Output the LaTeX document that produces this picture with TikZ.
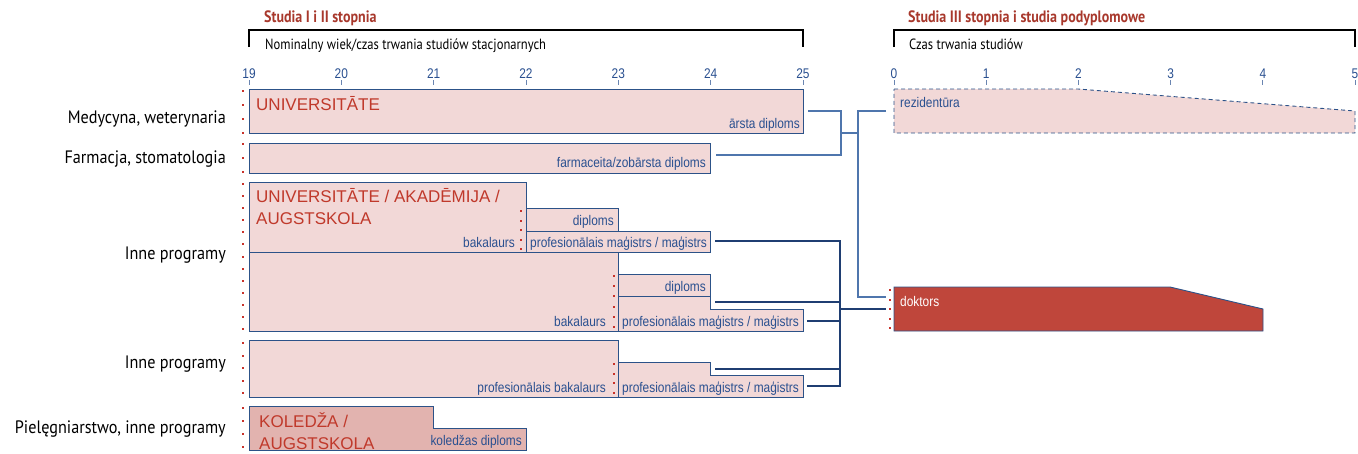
\documentclass[tikz,border=0pt]{standalone}
\usepackage{fontspec}
\newfontfamily\arialn[FakeStretch=0.85]{Liberation Sans}
\newfontfamily\arialr{Liberation Sans}
\newfontfamily\myr[FakeStretch=0.9]{PT Sans}
\newfontfamily\mys[FakeStretch=0.85]{PT Sans}
\definecolor{pinkfill}{HTML}{F2D8D7}
\definecolor{kolfill}{HTML}{E2B3AF}
\definecolor{boxborder}{HTML}{2C5288}
\definecolor{redtext}{HTML}{C0392B}
\definecolor{bluetext}{HTML}{2A5090}
\definecolor{titlecol}{HTML}{A8382C}
\definecolor{thincol}{HTML}{4F76AD}
\definecolor{thickcol}{HTML}{1F3E72}
\definecolor{dokfill}{HTML}{BF463B}
\definecolor{dotred}{HTML}{C8322A}
\newcommand\reddots[4]{\foreach \k in {0,...,#4}{\fill[dotred] ({#1-1},{#2+(#3-#2)*\k/#4-1}) rectangle ++(2,2);}}
\begin{document}
\begin{tikzpicture}[x=1pt,y=-1pt,
  box/.style={draw=boxborder, fill=pinkfill, line width=0.9pt},
  lbl/.style={font=\arialn\fontsize{14}{16}\selectfont, text=bluetext, inner sep=0pt, anchor=base east},
  big/.style={font=\arialr\fontsize{17}{21}\selectfont, text=redtext, inner sep=0pt, anchor=base west},
  rowlbl/.style={font=\myr\fontsize{18}{20}\selectfont, inner sep=0pt, anchor=base east},
  ttl/.style={font=\mys\bfseries\fontsize{16.5}{18}\selectfont, text=titlecol, inner sep=0pt, anchor=base west},
  sub/.style={font=\mys\fontsize{14.8}{17}\selectfont, inner sep=0pt, anchor=base west},
  num/.style={font=\arialn\fontsize{14}{16}\selectfont, text=bluetext, inner sep=0pt, anchor=base},
  thinc/.style={draw=thincol, line width=1.3pt},
  thickc/.style={draw=thickcol, line width=2.8pt},
  bracket/.style={draw=black, line width=1.6pt}
]
\useasboundingbox (0,0) rectangle (1358,453);

% titles and brackets
\node[ttl] (t1) at (264,22) {Studia I i II stopnia};
\node[ttl] (t2) at (908,22) {Studia III stopnia i studia podyplomowe};
\draw[bracket] (249,47) -- (249,30) -- (803,30) -- (803,47);
\draw[bracket] (894,47) -- (894,30) -- (1355,30) -- (1355,47);
\node[sub] (s1) at (265,49) {Nominalny wiek/czas trwania studiów stacjonarnych};
\node[sub] (s2) at (909,49) {Czas trwania studiów};

% axes
\foreach \i in {19,...,25}{
  \pgfmathsetmacro\xx{249+(\i-19)*92.33}
  \node[num] (n\i) at (\xx,78) {\i};
  \draw[bluetext!70, line width=0.8pt] (\xx,80) -- (\xx,85);
}
\foreach \i in {0,...,5}{
  \pgfmathsetmacro\xx{894+\i*92.2}
  \node[num] (m\i) at (\xx,78) {\i};
  \draw[bluetext!70, line width=0.8pt] (\xx,80) -- (\xx,85);
}

% row labels
\node[rowlbl] (r1) at (226,123) {Medycyna, weterynaria};
\node[rowlbl] (r2) at (226,163) {Farmacja, stomatologia};
\node[rowlbl] (r3) at (226,259) {Inne programy};
\node[rowlbl] (r4) at (226,368) {Inne programy};
\node[rowlbl] (r5) at (226,433) {Pielęgniarstwo, inne programy};

% row 1
\draw[box] (249,89) rectangle (803,133);
\node[big] (u1) at (256,110) {UNIVERSITĀTE};
\node[lbl] (l1) at (800,128) {ārsta diploms};
% row 2
\draw[box] (249,143) rectangle (710,173);
\node[lbl] (l2) at (706,167) {farmaceita/zobārsta diploms};

% row 3 upper
\draw[box] (249,182) rectangle (526,252);
\node[big] (u2) at (256,202) {UNIVERSITĀTE / AKADĒMIJA /};
\node[big] (u3) at (256,224) {AUGSTSKOLA};
\node[lbl] (l3) at (515,247) {bakalaurs};
\draw[box] (526,208) rectangle (618,231);
\node[lbl] (l4) at (614,225) {diploms};
\draw[box] (526,231) rectangle (710,252);
\node[lbl] (l5) at (707,247) {profesionālais maģistrs / maģistrs};

% row 3 lower
\draw[box] (249,252) rectangle (618,331);
\node[lbl] (l6) at (606,326) {bakalaurs};
\draw[box] (618,274) -- (710,274) -- (710,309) -- (803,309) -- (803,331) -- (618,331) -- cycle;
\draw[draw=boxborder, line width=0.9pt] (618,296) -- (710,296);
\node[lbl] (l7) at (706,291) {diploms};
\node[lbl] (l8) at (799,326) {profesionālais maģistrs / maģistrs};

% row 4
\draw[box] (249,340) rectangle (618,397);
\node[lbl] (l9) at (606,392) {profesionālais bakalaurs};
\draw[box] (618,362) -- (710,362) -- (710,375) -- (803,375) -- (803,397) -- (618,397) -- cycle;
\node[lbl] (l10) at (799,392) {profesionālais maģistrs / maģistrs};

% row 5
\draw[box, fill=kolfill] (249,406) -- (433,406) -- (433,428) -- (526,428) -- (526,450) -- (249,450) -- cycle;
\node[big] (k1) at (259,427) {KOLEDŽA /};
\node[big] (k2) at (259,449) {AUGSTSKOLA};
\node[lbl] (l11) at (522,445) {koledžas diploms};

% third cycle
\draw[draw=boxborder, fill=pinkfill, line width=0.9pt, dash pattern=on 4pt off 3pt]
  (894,89) -- (1078,89) -- (1355,111) -- (1355,133) -- (894,133) -- cycle;
\node[lbl, anchor=base west] (rz) at (900,107) {rezidentūra};
\draw[draw=boxborder, fill=dokfill, line width=0.9pt]
  (894,287) -- (1170,287) -- (1263,309) -- (1263,331) -- (894,331) -- cycle;
\node[lbl, anchor=base west, text=white] (dk) at (900,306) {doktors};

% red dots
\reddots{243}{91}{133}{3}
\reddots{243}{144}{172}{2}
\reddots{243}{184}{329}{12}
\reddots{243}{343}{393}{4}
\reddots{243}{408}{447}{3}
\reddots{521}{211}{249}{4}
\reddots{614}{276}{327}{5}
\reddots{614}{364}{393}{3}
\reddots{889.5}{290}{328}{4}

% thin connectors
\coordinate (a1) at (808,111);
\coordinate (a2) at (716,155);
\coordinate (j1) at (841,133);
\coordinate (j2) at (858,133);
\coordinate (rzin) at (886,111);
\coordinate (dkin) at (886,297);
\draw[thinc] (a1) -- (841,111) -- (841,155) -- (a2);
\draw[thinc] (j1) -- (j2);
\draw[thinc] (rzin) -- (858,111) -- (858,297) -- (dkin);

% thick connectors
\coordinate (b1) at (715,241);
\coordinate (b2) at (715,302);
\coordinate (b3) at (807,321);
\coordinate (b4) at (715,369);
\coordinate (b5) at (807,386);
\coordinate (bd) at (886,309);
\draw[thickc] (b1) -- (840,241) -- (840,386) -- (b5);
\draw[thickc] (b2) -- (840,302);
\draw[thickc] (b3) -- (840,321);
\draw[thickc] (b4) -- (840,369);
\draw[thickc] (840,309) -- (bd);
\end{tikzpicture}
\end{document}
